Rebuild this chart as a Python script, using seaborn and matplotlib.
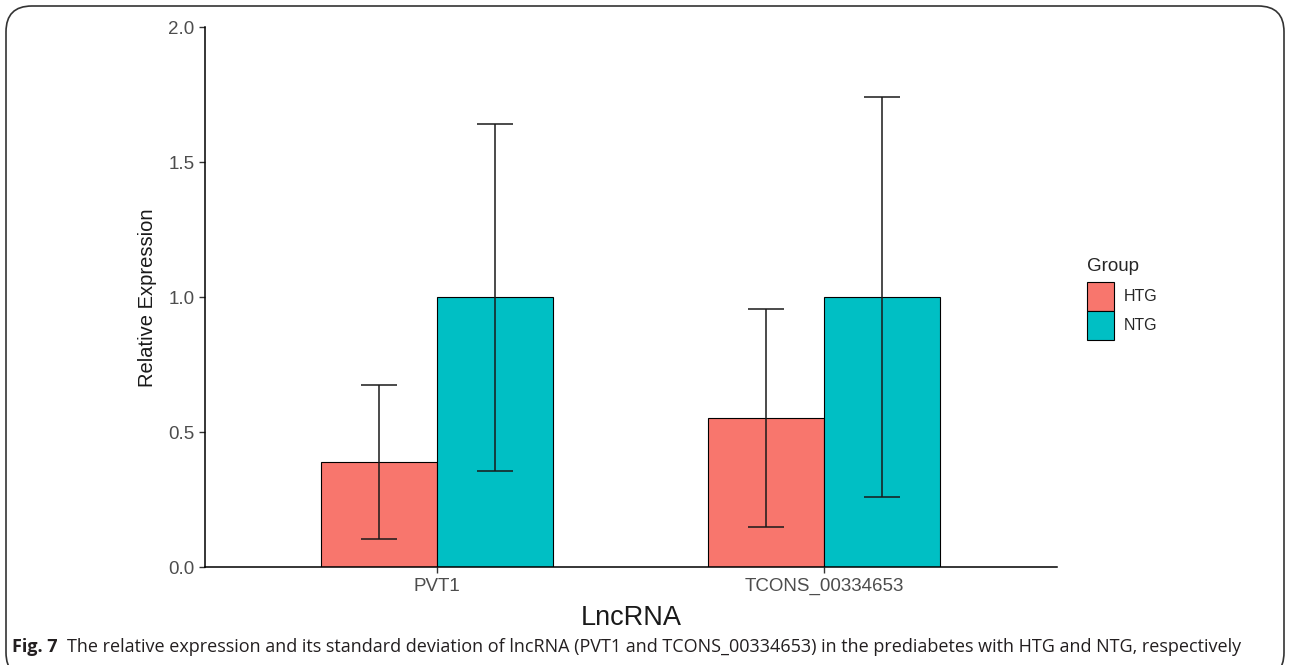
"""Bar chart of relative lncRNA expression (mean with SD) for HTG and NTG groups."""
import matplotlib
matplotlib.use('Agg')
import matplotlib.pyplot as plt
import pandas as pd
import seaborn as sns
from matplotlib.patches import FancyBboxPatch

lncrnas = ['PVT1', 'TCONS_00334653']
groups = ['HTG', 'NTG']
htg_mean = [0.389, 0.553]
htg_sd = [0.285, 0.404]
ntg_mean = [1.0, 1.0]
ntg_sd = [0.643, 0.740]
colors = ['#F8766D', '#00BFC4']
yticks = [0.0, 0.5, 1.0, 1.5, 2.0]

df = pd.DataFrame({
    'LncRNA': lncrnas * 2,
    'Group': ['HTG'] * 2 + ['NTG'] * 2,
    'mean': htg_mean + ntg_mean,
    'sd': htg_sd + ntg_sd,
})

sns.set_style('white')
plt.rcParams['font.family'] = ['Liberation Sans', 'DejaVu Sans']

fig = plt.figure(figsize=(12.9, 6.65), dpi=100)
ax = fig.add_axes([0.159, 0.147, 0.660, 0.812])

sns.barplot(data=df, x='LncRNA', y='mean', hue='Group', order=lncrnas,
            hue_order=groups, palette=colors, width=0.6, errorbar=None,
            edgecolor='black', linewidth=0.8, saturation=1, ax=ax)

# error bars at the centres of the drawn bars
for cont, g in zip(ax.containers, groups):
    sub = df[df['Group'] == g].set_index('LncRNA').loc[lncrnas]
    xs = [p.get_x() + p.get_width() / 2 for p in cont.patches]
    ax.errorbar(xs, sub['mean'], yerr=sub['sd'], fmt='none', ecolor='#1a1a1a',
                elinewidth=1.1, capsize=13, capthick=1.1)

ax.set_xlim(-0.6, 1.6)
ax.set_ylim(0, 2.0)
ax.set_yticks(yticks)
ax.set_yticklabels([f'{t:.1f}' for t in yticks])
ax.set_xlabel('LncRNA', fontsize=19.5, color='#1a1a1a', labelpad=7)
ax.set_ylabel('Relative Expression', fontsize=14.5, color='#1a1a1a', labelpad=8)
ax.tick_params(axis='both', labelsize=13.5, labelcolor='#4d4d4d', length=4,
               width=1, color='#333333', direction='out', left=True, bottom=True)
for s in ['top', 'right']:
    ax.spines[s].set_visible(False)
for s in ['left', 'bottom']:
    ax.spines[s].set_color('black')
    ax.spines[s].set_linewidth(1.1)

leg = ax.legend(title='Group', loc='center left', bbox_to_anchor=(1.0265, 0.497),
                frameon=False, fontsize=11.5, title_fontsize=13.5, handlelength=1.7,
                handleheight=2.4, labelspacing=0.0, handletextpad=0.6, borderpad=0)
leg._legend_box.align = 'left'
leg._legend_box.sep = 5

# caption and rounded frame
fig.text(12 / 1290, 1 - 647 / 665, 'Fig. 7', fontsize=13, fontweight='bold',
         family='Open Sans', va='center', ha='left', color='#231f20')
fig.text(67 / 1290, 1 - 647 / 665,
         'The relative expression and its standard deviation of lncRNA (PVT1 and '
         'TCONS_00334653) in the prediabetes with HTG and NTG, respectively',
         fontsize=13, family='Open Sans', va='center', ha='left', color='#231f20')
frame = FancyBboxPatch((6 / 1290, -0.02), 1278 / 1290, 1 - 6 / 665 + 0.02,
                       boxstyle='round,pad=0,rounding_size=0.02',
                       transform=fig.transFigure, facecolor='none',
                       edgecolor='#333333', linewidth=1.2, mutation_aspect=1290 / 665)
fig.patches.append(frame)

fig.savefig('out.png', dpi=100)
